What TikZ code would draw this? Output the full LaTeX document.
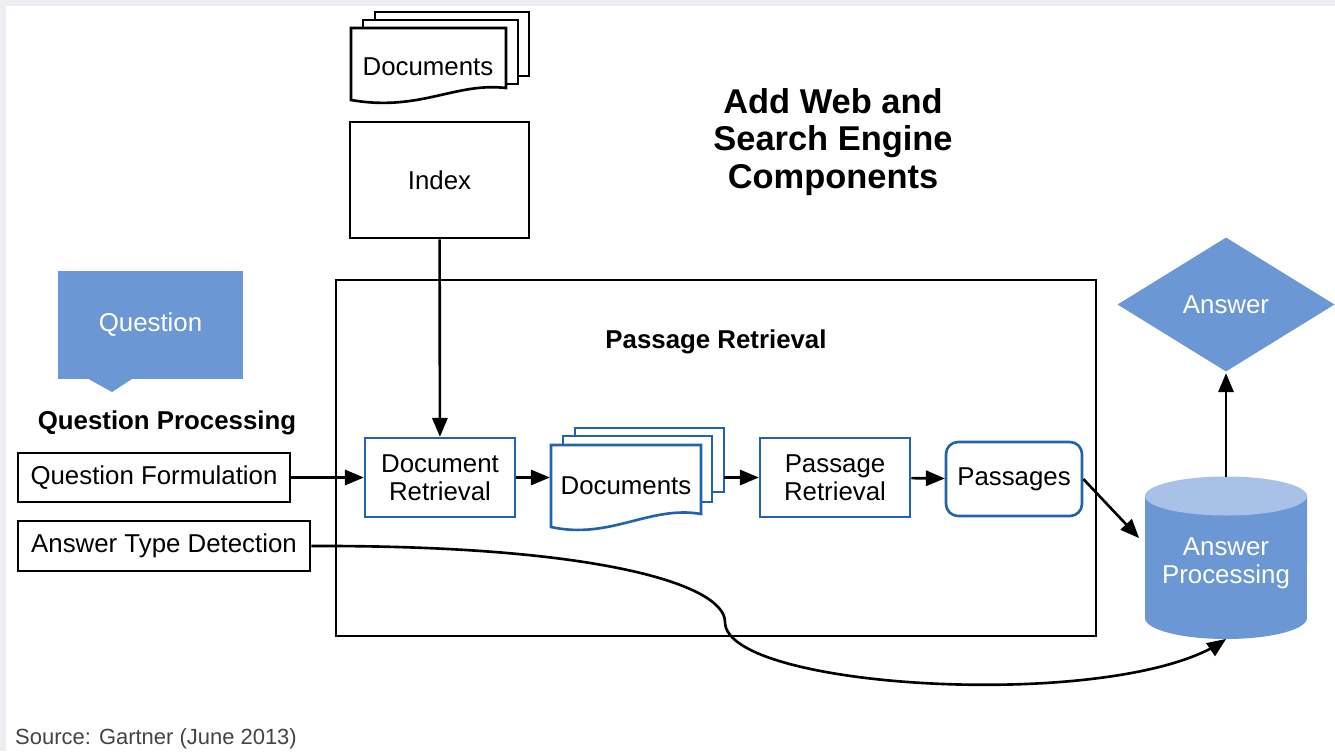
\documentclass[tikz,border=0pt]{standalone}
\usepackage{fontspec}
\setmainfont{Liberation Sans}
\usepackage{tikz}
\usetikzlibrary{arrows,positioning,shapes,calc}
\pgfdeclarelayer{bg}
\pgfsetlayers{bg,main}
\definecolor{qblue}{HTML}{6B98D4}
\definecolor{qlight}{HTML}{A8C1E7}
\definecolor{lblue}{HTML}{2263AE}
\definecolor{pagegray}{HTML}{ECEEF2}
\definecolor{srcgray}{HTML}{444444}

\begin{document}
\begin{tikzpicture}[x=0.02cm,y=-0.02cm,>=triangle 45,
	every path/.style={line width=1.5pt},
	font=\fontsize{14.7}{16}\selectfont,
	black node/.style={rectangle,draw=black,fill=white,inner sep=0pt,align=center},
	blue node/.style={rectangle,draw=lblue,fill=white,inner sep=0pt,align=center},
	fill node/.style={fill=qblue,text=white,inner sep=0pt,align=center},
	head node/.style={font=\fontsize{14.7}{16}\selectfont\bfseries}]

	\useasboundingbox (0,0) rectangle (1335,751);
	\begin{pgfonlayer}{bg}
	\fill[pagegray] (0,0) rectangle (1335,751);
	\fill[white] (6,6) rectangle (1335,751);
	\end{pgfonlayer}

	% document stacks
	\draw[fill=white] (375,12) rectangle (529,76);
	\draw[fill=white] (363,20) rectangle (518,84);
	\draw[fill=white] (351,28) -- (506,28) -- (506,88) .. controls (455,82) and (420,112) .. (351,100) -- cycle;
	\draw[lblue,fill=white] (575,428) rectangle (724,492);
	\draw[lblue,fill=white] (563,436) rectangle (712,502);
	\draw[lblue,fill=white] (551,445) -- (701,445) -- (701,514) .. controls (650,505) and (610,540) .. (551,527) -- cycle;

	% answer processing cylinder
	\fill[qblue] (1145,496) -- (1145,618) arc[start angle=180,end angle=360,x radius=1.62cm,y radius=0.42cm] -- (1307,496) -- cycle;
	\fill[qlight] (1226,496) ellipse[x radius=1.62cm,y radius=0.39cm];

	\node (TD) at (428,67) {Documents};
	\node[black node,minimum width=3.58cm,minimum height=2.32cm] (I) at (439.5,180) {Index};
	\node[font=\fontsize{19.6}{21.3}\selectfont\bfseries,align=center] (T) at (833,142) {Add Web and\\Search Engine\\Components};

	\node[draw,minimum width=15.2cm,minimum height=7.12cm,inner sep=0pt] (B) at (716,458) {};
	\node[head node] (BT) at (716,342) {Passage Retrieval};

	\node[fill node,minimum width=3.7cm,minimum height=2.18cm] (Q) at (150.5,325) {Question};
	\fill[qblue] (85,377) -- (112,392) -- (135,377) -- cycle;
	\node[head node] (QP) at (167,423) {Question Processing};
	\node[black node,minimum width=5.44cm,minimum height=0.98cm] (QF) at (154,477.5) {Question Formulation};
	\node[black node,minimum width=5.84cm,minimum height=1cm] (ATD) at (164,546) {Answer Type Detection};

	\node[blue node,minimum width=3cm,minimum height=1.58cm] (DR) at (440,477.5) {Document\\Retrieval};
	\node[minimum width=3cm,minimum height=1.64cm,inner sep=0pt] (D) at (626,486) {Documents};
	\node[blue node,minimum width=3cm,minimum height=1.58cm] (PR) at (835,477.5) {Passage\\Retrieval};
	\node[blue node,rounded corners=0.24cm,minimum width=2.72cm,minimum height=1.48cm] (P) at (1014,479) {Passages};

	\node[text=white,align=center] (AP) at (1226,563) {Answer\\Processing};
	\node[diamond,fill=qblue,text=white,aspect=1.6,minimum width=4.36cm,minimum height=2.7cm,inner sep=0pt] (A) at (1226,304.5) {Answer};

	\node[text=srcgray,font=\fontsize{12.5}{14}\selectfont] (S) at (156,739) {Source: Gartner (June 2013)};

	\coordinate (Dback) at (724,477.5);
	\coordinate (APtop) at ($(AP)+(0,-86)$);
	\coordinate (APbot) at ($(AP)+(0,76)$);
	\coordinate (APin) at ($(AP)+(-87,-25)$);

	\path[->]
	(I) edge (DR)
	(QF) edge (DR)
	(DR.east) edge (DR.east -| D.west)
	(Dback) edge (PR)
	(PR) edge (P)
	(P.east) edge (APin)
	(APtop) edge (A);
	\draw[->] (ATD.east) .. controls (600,545) and (725,585) .. (725,622) .. controls (725,690) and (1120,712) .. (APbot);

\end{tikzpicture}
\end{document}
